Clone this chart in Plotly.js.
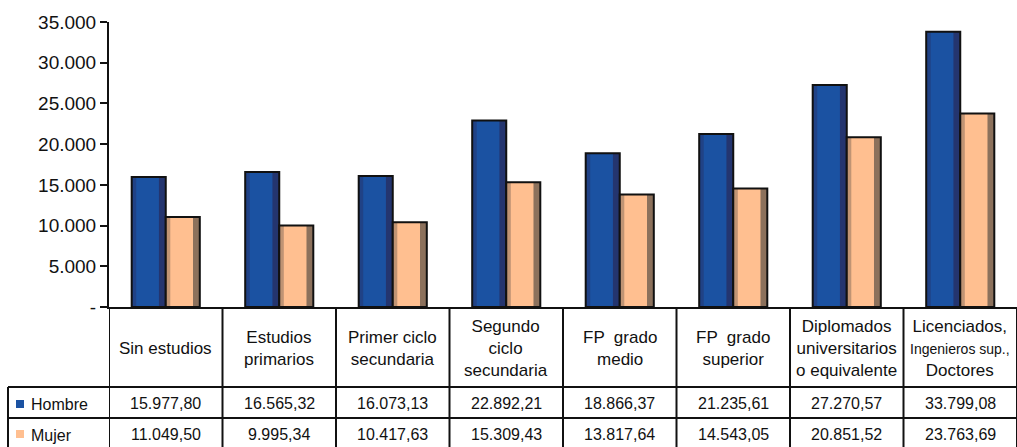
<!DOCTYPE html>
<html>
<head>
<meta charset="utf-8">
<script src="https://cdn.plot.ly/plotly-3.0.1.min.js"></script>
<style>html,body{margin:0;padding:0;background:#fff;}#chart{width:1017px;height:447px;}</style>
</head>
<body>
<div id="chart"></div>
<script>
const categories = ["Sin estudios","Estudios<br>primarios","Primer ciclo<br>secundaria","Segundo<br>ciclo<br>secundaria","FP  grado<br>medio","FP  grado<br>superior","Diplomados<br>universitarios<br>o equivalente","Licenciados,<br><span style=\"font-size:14px\">Ingenieros sup.,</span><br>Doctores"];
const hombre = [15977.80,16565.32,16073.13,22892.21,18866.37,21235.61,27270.57,33799.08];
const mujer = [11049.50,9995.34,10417.63,15309.43,13817.64,14543.05,20851.52,23763.69];
const hombreText = ["15.977,80","16.565,32","16.073,13","22.892,21","18.866,37","21.235,61","27.270,57","33.799,08"];
const mujerText = ["11.049,50","9.995,34","10.417,63","15.309,43","13.817,64","14.543,05","20.851,52","23.763,69"];
const seriesNames = ["Hombre","Mujer"];
const tickVals = [0,5000,10000,15000,20000,25000,30000,35000];
const tickText = ["-","5.000","10.000","15.000","20.000","25.000","30.000","35.000"];

const blue = "#1B52A2", blueDark = "#24356F";
const peach = "#FFBF90", peachDark = "#8C715C";
const xs = categories.map((c,i)=>i);

const W = 0.30;
function barTraces(vals, off, fill, dark) {
  return [
    {type:"bar", x:xs, y:vals, width:W, offset:off, marker:{color:fill, line:{width:0}}, hoverinfo:"skip", showlegend:false},
    {type:"bar", x:xs, y:vals, width:0.06, offset:off+W-0.06, marker:{color:dark, line:{width:0}}, hoverinfo:"skip", showlegend:false},
    {type:"bar", x:xs, y:vals, width:0.04, offset:off, marker:{color:dark, opacity:0.55, line:{width:0}}, hoverinfo:"skip", showlegend:false},
    {type:"bar", x:xs, y:vals, width:W, offset:off, marker:{color:"rgba(0,0,0,0)", line:{width:2, color:"#111"}}, hoverinfo:"skip", showlegend:false}
  ];
}
const traces = [].concat(barTraces(hombre, -W, blue, blueDark), barTraces(mujer, 0, peach, peachDark));

const plotTop = 22, plotBottom = 307, plotLeft = 109, plotRight = 1017;
const ph = plotBottom - plotTop, pw = plotRight - plotLeft;
const py = p => (plotBottom - p) / ph;
const pxp = p => (p - plotLeft) / pw;

const tableBottom = py(460);
const rowLine1 = py(387), rowLine2 = py(418);
const shapes = [];
for (let i = 0; i <= categories.length; i++) {
  shapes.push({type:"line", xref:"x", yref:"paper", x0:i-0.5, x1:i-0.5, y0:0, y1:tableBottom, line:{color:"#111", width:2}});
}
[rowLine1, rowLine2].forEach(y => shapes.push({type:"line", xref:"paper", yref:"paper", x0:pxp(8), x1:1, y0:y, y1:y, line:{color:"#111", width:2}}));
shapes.push({type:"line", xref:"paper", yref:"paper", x0:pxp(8), x1:pxp(8), y0:rowLine1, y1:tableBottom, line:{color:"#111", width:2}});
shapes.push({type:"rect", xref:"paper", yref:"paper", x0:pxp(16), x1:pxp(24), y0:py(408), y1:py(400), fillcolor:blue, line:{width:0}});
shapes.push({type:"rect", xref:"paper", yref:"paper", x0:pxp(16), x1:pxp(24), y0:py(438), y1:py(430), fillcolor:peach, line:{width:0}});

const hfont = {family:"Liberation Sans, Arial, sans-serif", size:17, color:"#111"};
const tfont = {family:"Liberation Sans, Arial, sans-serif", size:16, color:"#111"};
const annotations = [];
categories.forEach((c,i) => {
  annotations.push({xref:"x", yref:"paper", x:i, y:py(348), text:c, showarrow:false, font:hfont, xanchor:"center", yanchor:"middle"});
  annotations.push({xref:"x", yref:"paper", x:i, y:py(403), text:hombreText[i], showarrow:false, font:tfont, xanchor:"center", yanchor:"middle"});
  annotations.push({xref:"x", yref:"paper", x:i, y:py(434), text:mujerText[i], showarrow:false, font:tfont, xanchor:"center", yanchor:"middle"});
});
annotations.push({xref:"paper", yref:"paper", x:pxp(29), y:py(404), text:seriesNames[0], showarrow:false, font:tfont, xanchor:"left", yanchor:"middle"});
annotations.push({xref:"paper", yref:"paper", x:pxp(29), y:py(435), text:seriesNames[1], showarrow:false, font:tfont, xanchor:"left", yanchor:"middle"});

const layout = {
  width:1017, height:447,
  margin:{l:plotLeft, r:1017-plotRight, t:plotTop, b:447-plotBottom, pad:0},
  paper_bgcolor:"#fff", plot_bgcolor:"#fff",
  barmode:"overlay",
  showlegend:false,
  xaxis:{range:[-0.5, categories.length-0.5], showticklabels:false, showgrid:false, zeroline:false, showline:true, linecolor:"#111", linewidth:2, ticks:"", fixedrange:true},
  yaxis:{range:[0,35000], tickvals:tickVals, ticktext:tickText, showgrid:false, zeroline:false, showline:true, linecolor:"#111", linewidth:2, ticks:"outside", ticklen:7, tickwidth:2, tickcolor:"#111",
         tickfont:{family:"Liberation Sans, Arial, sans-serif", size:19, color:"#111"}, fixedrange:true},
  shapes:shapes,
  annotations:annotations
};
Plotly.newPlot("chart", traces, layout, {displayModeBar:false, staticPlot:true});
</script>
</body>
</html>
